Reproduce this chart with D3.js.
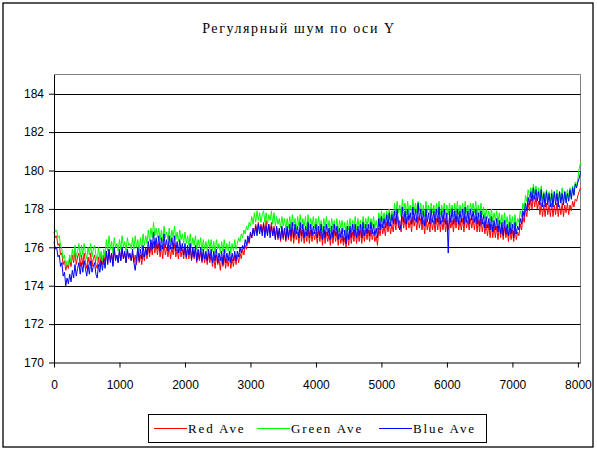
<!DOCTYPE html>
<html>
<head>
<meta charset="utf-8">
<script src="https://cdn.jsdelivr.net/npm/d3@7"></script>
<style>
  body { margin: 0; background: #fff; }
  svg { display: block; }
</style>
</head>
<body>
<div id="chart"></div>
<script>
// readings taken every 20 frames (x = index * sampleStep)
var sampleStep = 20;
var seriesNames = ["Red Ave", "Green Ave", "Blue Ave"];
var seriesColors = ["#ff0000", "#00ff00", "#0000ff"];
var xTicks = [0, 1000, 2000, 3000, 4000, 5000, 6000, 7000, 8000];
var yTicks = [170, 172, 174, 176, 178, 180, 182, 184];

var redAve = [
  176.8, 176.5, 176.6, 176.1, 176.2, 175.6, 175.7, 175.1, 175.3, 174.8, 175.1, 174.9, 175.4, 175.0, 175.6, 175.2, 175.8, 175.1, 175.5, 175.7,
  175.0, 175.6, 175.1, 175.7, 175.2, 174.9, 175.5, 175.1, 175.7, 175.0, 175.4, 175.6, 175.1, 174.9, 175.5, 175.0, 175.6, 175.1, 175.6, 175.2,
  175.8, 175.2, 175.9, 175.3, 175.7, 175.1, 175.9, 175.4, 175.6, 175.2, 175.8, 175.3, 175.9, 175.4, 175.7, 175.2, 175.8, 175.4, 175.6, 175.3,
  175.7, 175.2, 175.6, 175.1, 175.8, 175.2, 175.6, 175.1, 175.7, 175.3, 175.9, 175.4, 176.0, 175.5, 176.1, 175.6, 176.3, 175.7, 176.2, 175.6,
  176.2, 175.5, 176.1, 175.4, 176.2, 175.6, 176.0, 175.5, 176.1, 175.4, 176.0, 175.6, 176.2, 175.5, 175.9, 175.4, 176.0, 175.5, 175.9, 175.4,
  176.0, 175.4, 175.9, 175.4, 176.0, 175.3, 175.8, 175.4, 175.9, 175.2, 175.7, 175.3, 175.8, 175.2, 175.7, 175.2, 175.6, 175.1, 175.7, 175.2,
  175.6, 175.0, 175.5, 174.9, 175.6, 175.1, 175.4, 174.8, 175.5, 175.0, 175.6, 174.9, 175.4, 175.0, 175.5, 174.9, 175.4, 175.0, 175.6, 175.1,
  175.6, 175.2, 175.7, 175.4, 175.9, 175.6, 176.1, 175.9, 176.4, 176.2, 176.7, 176.5, 176.9, 176.7, 177.2, 176.8, 177.3, 176.9, 177.2, 176.8,
  177.3, 176.8, 177.4, 176.7, 177.2, 176.8, 177.3, 176.6, 177.1, 176.5, 177.0, 176.4, 176.9, 176.3, 177.0, 176.4, 176.9, 176.3, 176.9, 176.4,
  176.9, 176.3, 177.0, 176.2, 176.9, 176.4, 176.8, 176.2, 177.0, 176.3, 176.9, 176.2, 176.8, 176.3, 177.0, 176.2, 176.9, 176.3, 176.8, 176.4,
  176.8, 176.2, 176.9, 176.3, 176.8, 176.1, 176.9, 176.2, 176.8, 176.3, 176.7, 176.1, 176.8, 176.2, 176.9, 176.3, 176.8, 176.1, 176.7, 176.2,
  176.6, 176.1, 176.5, 176.0, 176.7, 176.1, 176.8, 176.2, 176.8, 176.3, 176.9, 176.2, 176.8, 176.3, 176.9, 176.2, 176.9, 176.3, 176.9, 176.4,
  176.9, 176.3, 176.9, 176.4, 176.8, 176.3, 176.6, 176.1, 177.0, 176.6, 177.2, 176.7, 177.1, 176.6, 177.3, 176.8, 177.3, 176.7, 177.2, 176.8,
  177.5, 176.9, 177.6, 177.0, 177.4, 176.8, 177.6, 177.0, 177.5, 176.9, 177.6, 177.0, 177.4, 176.8, 177.6, 177.1, 177.5, 176.9, 177.6, 177.0,
  177.5, 176.9, 177.4, 176.7, 177.5, 176.9, 177.3, 176.8, 177.5, 176.9, 177.4, 176.8, 177.5, 176.9, 177.6, 176.8, 177.4, 176.9, 177.5, 176.8,
  177.4, 176.9, 177.5, 177.0, 177.4, 176.8, 177.5, 177.0, 177.6, 176.9, 177.4, 176.9, 177.5, 176.8, 177.6, 177.0, 177.4, 176.9, 177.5, 177.0,
  177.5, 176.9, 177.6, 176.8, 177.4, 176.8, 177.5, 176.8, 177.3, 176.7, 177.2, 176.6, 177.2, 176.5, 177.2, 176.5, 177.1, 176.5, 177.1, 176.4,
  177.1, 176.5, 177.0, 176.4, 177.1, 176.5, 176.9, 176.3, 177.0, 176.4, 176.9, 176.3, 177.0, 176.4, 176.8, 176.6, 177.2, 176.9, 177.6, 177.3,
  178.0, 177.6, 178.3, 177.9, 178.5, 178.0, 178.7, 178.1, 178.6, 178.0, 178.4, 177.7, 178.3, 177.6, 178.2, 177.6, 178.3, 177.7, 178.2, 177.6,
  178.3, 177.6, 178.2, 177.7, 178.3, 177.6, 178.2, 177.7, 178.3, 177.6, 178.2, 177.8, 178.3, 177.7, 178.2, 177.9, 178.4, 178.1, 178.5, 178.4,
  178.7, 178.9, 179.1
];

var greenAve = [
  177.1, 176.8, 176.9, 176.5, 176.6, 176.1, 175.9, 175.4, 175.6, 175.0, 175.3, 175.1, 175.6, 175.2, 175.9, 175.4, 176.1, 175.5, 175.8, 176.2,
  175.5, 176.1, 175.6, 176.2, 175.7, 175.4, 176.0, 175.6, 176.2, 175.5, 175.9, 176.1, 175.6, 175.3, 176.0, 175.4, 175.8, 175.3, 175.9, 175.5,
  176.4, 175.8, 176.6, 175.9, 176.3, 175.7, 176.5, 176.0, 176.2, 175.8, 176.4, 175.9, 176.6, 176.0, 176.3, 175.8, 176.5, 176.1, 176.2, 175.9,
  176.5, 175.9, 176.6, 176.0, 176.4, 175.8, 176.5, 175.9, 176.7, 176.1, 176.6, 176.2, 176.9, 176.3, 177.0, 176.5, 177.3, 176.6, 177.0, 176.5,
  177.0, 176.4, 176.9, 176.3, 177.1, 176.5, 176.8, 176.4, 177.0, 176.3, 176.9, 176.5, 177.1, 176.4, 176.8, 176.3, 176.9, 176.4, 176.7, 176.2,
  176.8, 176.2, 176.6, 176.1, 176.7, 176.0, 176.5, 176.1, 176.6, 175.9, 176.4, 176.0, 176.5, 175.8, 176.4, 175.9, 176.3, 175.8, 176.4, 175.9,
  176.4, 175.8, 176.3, 175.7, 176.4, 175.9, 176.2, 175.7, 176.3, 175.8, 176.4, 175.7, 176.2, 175.8, 176.3, 175.7, 176.2, 175.8, 176.4, 175.9,
  176.2, 176.5, 176.3, 176.7, 176.5, 176.9, 176.7, 177.1, 176.9, 177.3, 177.1, 177.6, 177.2, 177.8, 177.3, 177.9, 177.4, 177.8, 177.3, 177.7,
  177.9, 177.3, 177.8, 177.2, 177.7, 177.4, 177.9, 177.2, 177.8, 177.1, 177.6, 177.2, 177.5, 177.0, 177.6, 177.1, 177.5, 176.9, 177.5, 177.0,
  177.6, 177.0, 177.7, 177.1, 177.5, 176.9, 177.6, 177.1, 177.7, 177.0, 177.5, 177.1, 177.6, 176.9, 177.7, 177.0, 177.5, 177.1, 177.6, 177.0,
  177.5, 176.9, 177.6, 177.0, 177.4, 176.8, 177.5, 177.0, 177.6, 176.9, 177.4, 176.8, 177.5, 177.0, 177.4, 176.9, 177.5, 176.8, 177.4, 177.0,
  177.4, 176.8, 177.3, 176.7, 177.4, 176.9, 177.5, 176.8, 177.4, 177.0, 177.6, 176.9, 177.5, 177.0, 177.4, 176.9, 177.6, 177.0, 177.5, 177.1,
  177.6, 177.0, 177.5, 177.1, 177.6, 177.0, 177.4, 176.9, 177.8, 177.3, 177.9, 177.4, 177.8, 177.3, 177.9, 177.5, 178.0, 177.4, 177.9, 177.5,
  178.3, 177.7, 178.4, 177.8, 178.2, 177.6, 178.5, 177.9, 178.3, 177.7, 178.4, 177.8, 178.2, 177.7, 178.5, 177.9, 178.3, 177.8, 178.4, 177.9,
  178.3, 177.7, 178.2, 177.6, 178.4, 177.8, 178.2, 177.7, 178.3, 177.8, 178.2, 177.6, 178.3, 177.8, 178.4, 177.7, 178.2, 177.8, 178.3, 177.7,
  178.2, 177.7, 178.3, 177.8, 178.2, 177.6, 178.3, 177.8, 178.4, 177.7, 178.2, 177.8, 178.3, 177.7, 178.4, 177.8, 178.2, 177.7, 178.3, 177.9,
  178.3, 177.8, 178.4, 177.7, 178.2, 177.6, 178.3, 177.7, 178.1, 177.5, 178.0, 177.5, 177.9, 177.4, 178.0, 177.3, 177.8, 177.4, 177.9, 177.3,
  177.8, 177.2, 177.7, 177.1, 177.8, 177.2, 177.6, 177.0, 177.7, 177.1, 177.6, 177.0, 177.7, 177.1, 177.5, 177.3, 177.9, 177.6, 178.3, 178.0,
  178.7, 178.4, 179.0, 178.6, 179.1, 178.7, 179.3, 178.8, 179.2, 178.7, 179.1, 178.6, 179.2, 178.5, 178.9, 178.4, 179.0, 178.5, 178.9, 178.4,
  179.0, 178.4, 178.9, 178.5, 179.0, 178.4, 178.9, 178.5, 179.1, 178.4, 178.9, 178.5, 179.0, 178.6, 179.1, 178.6, 179.2, 178.8, 179.4, 179.2,
  179.6, 180.1, 180.4
];

var blueAve = [
  176.3, 175.9, 176.0, 175.5, 175.6, 175.0, 175.2, 174.5, 174.7, 174.0, 174.4, 174.1, 174.6, 174.2, 174.8, 174.4, 175.1, 174.5, 174.9, 175.2,
  174.6, 175.2, 174.7, 175.3, 174.9, 174.5, 175.1, 174.6, 175.3, 174.7, 175.0, 175.2, 174.6, 174.4, 175.1, 174.7, 175.3, 174.8, 175.4, 174.9,
  175.8, 175.1, 175.9, 175.2, 175.7, 175.0, 176.0, 175.3, 175.6, 175.2, 175.9, 175.3, 176.0, 175.4, 175.8, 175.2, 175.9, 175.5, 175.7, 175.3,
  175.9, 175.2, 174.8, 175.4, 176.0, 175.3, 175.9, 175.4, 176.1, 175.5, 176.0, 175.6, 176.3, 175.7, 176.4, 175.9, 176.8, 176.0, 176.5, 175.9,
  176.6, 175.8, 176.5, 175.9, 176.7, 176.0, 176.4, 175.8, 176.6, 175.9, 176.5, 175.9, 176.6, 175.8, 176.3, 175.7, 176.4, 175.8, 176.2, 175.6,
  176.2, 175.5, 176.1, 175.6, 176.2, 175.4, 176.0, 175.5, 176.1, 175.3, 175.9, 175.4, 176.0, 175.3, 175.9, 175.4, 175.8, 175.3, 175.9, 175.4,
  175.9, 175.2, 175.8, 175.3, 175.9, 175.2, 175.7, 175.3, 175.8, 175.1, 175.9, 175.2, 175.7, 175.3, 175.8, 175.2, 175.7, 175.3, 175.8, 175.3,
  175.8, 175.5, 176.0, 175.7, 176.1, 175.9, 176.4, 176.1, 176.6, 176.3, 176.8, 176.5, 177.0, 176.6, 177.1, 176.6, 177.2, 176.7, 177.1, 176.6,
  177.2, 176.5, 177.1, 176.6, 177.2, 176.5, 177.1, 176.6, 177.0, 176.4, 177.1, 176.5, 177.0, 176.4, 177.1, 176.5, 177.0, 176.4, 177.1, 176.5,
  177.2, 176.6, 177.3, 176.5, 177.2, 176.7, 177.1, 176.5, 177.3, 176.6, 177.2, 176.5, 177.1, 176.6, 177.3, 176.5, 177.2, 176.6, 177.1, 176.7,
  177.2, 176.5, 177.1, 176.6, 177.2, 176.4, 177.1, 176.5, 177.2, 176.6, 177.0, 176.4, 177.1, 176.5, 177.2, 176.6, 177.1, 176.4, 177.0, 176.5,
  177.0, 176.3, 176.9, 176.2, 177.1, 176.4, 177.1, 176.5, 177.2, 176.6, 177.2, 176.5, 177.1, 176.6, 177.2, 176.5, 177.3, 176.6, 177.2, 176.7,
  177.2, 176.6, 177.3, 176.7, 177.2, 176.6, 177.0, 176.5, 177.5, 176.9, 177.6, 177.0, 177.5, 177.0, 177.7, 177.1, 177.8, 177.1, 177.7, 177.2,
  177.9, 177.2, 178.0, 177.3, 176.9, 177.2, 178.1, 177.3, 177.9, 177.2, 178.0, 177.4, 177.8, 177.2, 178.1, 177.4, 178.0, 177.3, 178.3, 177.4,
  178.0, 177.2, 177.9, 177.1, 178.0, 177.3, 177.8, 177.2, 178.0, 177.3, 177.9, 177.2, 178.0, 177.3, 178.1, 177.2, 177.9, 177.3, 178.0, 177.2,
  177.8, 175.7, 177.9, 177.3, 178.0, 177.2, 177.9, 177.3, 178.0, 177.2, 177.9, 177.3, 178.0, 177.2, 178.1, 177.3, 177.9, 177.2, 178.0, 177.4,
  177.9, 177.3, 178.0, 177.2, 177.8, 177.1, 177.9, 177.2, 177.7, 177.0, 177.6, 177.0, 177.5, 176.9, 177.6, 176.8, 177.4, 176.9, 177.5, 176.8,
  177.4, 176.7, 177.3, 176.6, 177.4, 176.7, 177.2, 176.6, 177.3, 176.7, 177.2, 176.5, 177.3, 176.7, 177.1, 176.9, 177.5, 177.2, 177.9, 177.6,
  178.3, 177.9, 178.6, 178.2, 178.9, 178.4, 179.1, 178.5, 179.0, 178.4, 178.9, 178.2, 179.0, 178.1, 178.8, 178.1, 178.9, 178.2, 178.8, 178.1,
  178.8, 178.1, 178.9, 178.2, 178.8, 178.1, 178.9, 178.3, 178.8, 178.2, 178.9, 178.3, 178.8, 178.4, 179.0, 178.5, 179.1, 178.7, 179.3, 179.1,
  179.4, 179.6, 179.9
];

var allSeries = [redAve, greenAve, blueAve];

var width = 597, height = 451;
var plot = {left: 54, top: 74.5, right: 580.5, bottom: 362.5};

var svg = d3.select("#chart").append("svg")
    .attr("width", width)
    .attr("height", height);

svg.append("rect")
    .attr("x", 0).attr("y", 0)
    .attr("width", width).attr("height", height)
    .attr("fill", "#fff");

// outer chart border
svg.append("rect")
    .attr("x", 3).attr("y", 3)
    .attr("width", 590).attr("height", 444)
    .attr("fill", "none")
    .attr("stroke", "#000")
    .attr("stroke-width", 1.3);

svg.append("text")
    .attr("x", 299)
    .attr("y", 33)
    .attr("text-anchor", "middle")
    .style("font-family", "'Liberation Serif', 'Times New Roman', serif")
    .style("font-size", "14px")
    .style("letter-spacing", "1.6px")
    .text("Регулярный шум по оси Y");

var x = d3.scaleLinear().domain([0, 8040]).range([plot.left, plot.right]);
var y = d3.scaleLinear().domain([170, 185]).range([plot.bottom, plot.top]);

// gray plot frame (top and right)
svg.append("path")
    .attr("d", "M" + plot.left + "," + plot.top + "H" + plot.right + "V" + plot.bottom)
    .attr("fill", "none")
    .attr("stroke", "#808080")
    .attr("stroke-width", 1);

// gridlines
svg.append("g")
    .selectAll("line")
    .data(yTicks.filter(function(d){ return d > 170; }))
    .enter()
    .append("line")
    .attr("x1", plot.left)
    .attr("x2", plot.right)
    .attr("y1", function(d){ return Math.round(y(d)) + 0.5; })
    .attr("y2", function(d){ return Math.round(y(d)) + 0.5; })
    .attr("stroke", "#000")
    .attr("stroke-width", 1);

// series
var line = d3.line()
    .x(function(d, i){ return x(i * sampleStep); })
    .y(function(d){ return y(d); });

svg.append("g")
    .selectAll("path")
    .data(allSeries)
    .enter()
    .append("path")
    .attr("d", line)
    .attr("fill", "none")
    .attr("stroke", function(d, i){ return seriesColors[i]; })
    .attr("stroke-width", 1);

// axes
var yAxis = d3.axisLeft(y)
    .tickValues(yTicks)
    .tickSize(5)
    .tickSizeOuter(0)
    .tickPadding(5);

var gy = svg.append("g")
    .attr("transform", "translate(" + plot.left + ",0)")
    .call(yAxis);

var xAxis = d3.axisBottom(x)
    .tickValues(xTicks)
    .tickSize(5)
    .tickSizeOuter(0)
    .tickPadding(13)
    .tickFormat(d3.format("d"));

var gx = svg.append("g")
    .attr("transform", "translate(0," + plot.bottom + ")")
    .call(xAxis);

[gx, gy].forEach(function(g){
    g.select(".domain").attr("stroke", "#000");
    g.selectAll(".tick line").attr("stroke", "#000");
    g.selectAll(".tick text")
        .attr("fill", "#000")
        .style("font-family", "'Liberation Sans', Arial, sans-serif")
        .style("font-size", "12px");
});

// legend
var legend = svg.append("g");
legend.append("rect")
    .attr("x", 148.5).attr("y", 414.5)
    .attr("width", 338).attr("height", 28)
    .attr("fill", "#fff")
    .attr("stroke", "#000")
    .attr("stroke-width", 1);

var legendX = [154, 257, 379];
var item = legend.selectAll("g.item")
    .data(seriesNames)
    .enter()
    .append("g")
    .attr("class", "item")
    .attr("transform", function(d, i){ return "translate(" + legendX[i] + ",428.5)"; });

item.append("line")
    .attr("x1", 0).attr("x2", 33)
    .attr("y1", 0).attr("y2", 0)
    .attr("stroke", function(d, i){ return seriesColors[i]; })
    .attr("stroke-width", 1);

item.append("text")
    .attr("x", 34)
    .attr("y", 4.5)
    .style("font-family", "'Liberation Serif', 'Times New Roman', serif")
    .style("font-size", "13px")
    .style("letter-spacing", "1.9px")
    .text(function(d){ return d; });
</script>
</body>
</html>
